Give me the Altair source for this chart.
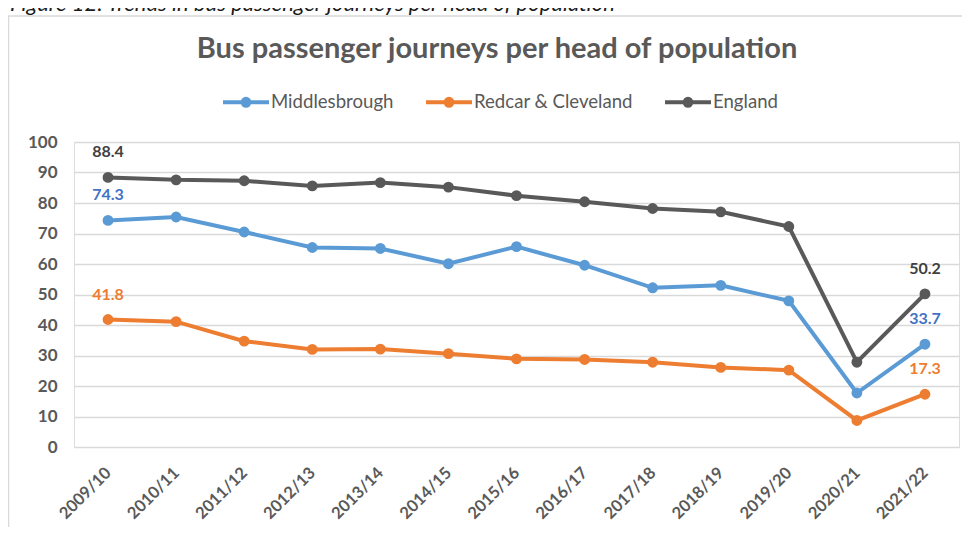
import altair as alt
import pandas as pd

caption = "Figure 12: Trends in bus passenger journeys per head of population"
title = "Bus passenger journeys per head of population"

years = ["2009/10", "2010/11", "2011/12", "2012/13", "2013/14", "2014/15", "2015/16",
         "2016/17", "2017/18", "2018/19", "2019/20", "2020/21", "2021/22"]
series = ["Middlesbrough", "Redcar & Cleveland", "England"]
middlesbrough = [74.3, 75.4, 70.5, 65.4, 65.1, 60.1, 65.7, 59.6, 52.2, 53.0, 47.9, 17.7, 33.7]
redcar = [41.8, 41.1, 34.7, 32.0, 32.1, 30.6, 28.9, 28.7, 27.8, 26.1, 25.2, 8.7, 17.3]
england = [88.4, 87.6, 87.3, 85.6, 86.7, 85.2, 82.4, 80.4, 78.2, 77.1, 72.3, 27.8, 50.2]
y_ticks = [0, 10, 20, 30, 40, 50, 60, 70, 80, 90, 100]

line_colors = ["#5B9BD5", "#ED7D31", "#595959"]

rows = []
for name, vals in zip(series, [middlesbrough, redcar, england]):
    for yr, v in zip(years, vals):
        rows.append({"year": yr, "series": name, "value": v})
df = pd.DataFrame(rows)

FONT = "Lato"
GREY = "#595959"

color_scale = alt.Scale(domain=series, range=line_colors)

base = alt.Chart(df).encode(
    x=alt.X("year:N", sort=years, scale=alt.Scale(type="point", padding=0.5),
            axis=alt.Axis(title=None, labelAngle=-45, labelAlign="right", labelBaseline="middle",
                          labelPadding=23, ticks=False, domain=False, grid=False,
                          labelFont=FONT, labelFontSize=16.5, labelFontWeight="bold",
                          labelColor=GREY)),
    y=alt.Y("value:Q", scale=alt.Scale(domain=[0, 100], nice=False),
            axis=alt.Axis(title=None, values=y_ticks, ticks=False, domain=False,
                          labelPadding=17, labelFont=FONT, labelFontSize=17,
                          labelFontWeight="bold", labelColor=GREY,
                          gridColor="#d9d9d9", gridWidth=1.5)),
)

legend = alt.Legend(
    orient="none", legendX=147, legendY=-65, direction="horizontal", title=None,
    symbolType="M-1,0H1M-0.15,0A0.15,0.15 0 1,1 0.15,0A0.15,0.15 0 1,1 -0.15,0Z",
    symbolSize=2116, symbolStrokeWidth=4, labelOffset=0, columnPadding=24, padding=0,
    labelFont=FONT, labelFontSize=18.6, labelColor=GREY, symbolOpacity=1,
)

lines = base.mark_line(strokeWidth=4).encode(
    stroke=alt.Stroke("series:N", scale=color_scale, sort=series, legend=legend)
)
points = base.mark_point(filled=False, size=70, strokeWidth=2.5, opacity=1).encode(
    fill=alt.Fill("series:N", scale=color_scale, sort=series, legend=legend),
    stroke=alt.Stroke("series:N", scale=color_scale, sort=series, legend=legend),
)
labels = base.mark_text(dy=-25, font=FONT, fontSize=16, fontWeight="bold").encode(
    text=alt.Text("value:Q", format=".1f"),
    color=alt.when(alt.datum.series == "Middlesbrough").then(alt.value("#4472C4"))
    .when(alt.datum.series == "Redcar & Cleveland").then(alt.value("#ED7D31"))
    .otherwise(alt.value("#404040")),
).transform_filter(
    (alt.datum.year == years[0]) | (alt.datum.year == years[-1])
)

one = pd.DataFrame({"k": [0]})
border_left = alt.Chart(one).mark_rule(color="#d9d9d9", strokeWidth=1.5).encode(
    x=alt.value(-65.5), y=alt.value(-126), y2=alt.value(390)
)
border_top = alt.Chart(one).mark_rule(color="#d9d9d9", strokeWidth=1.5).encode(
    x=alt.value(-66), x2=alt.value(900), y=alt.value(-126)
)
cap = alt.Chart(one).mark_text(align="left", baseline="alphabetic", font=FONT,
                               fontSize=22, fontStyle="italic", color="#1a1a1a").encode(
    x=alt.value(-64), y=alt.value(-131), text=alt.value(caption)
)
ttl = alt.Chart(one).mark_text(align="center", baseline="alphabetic", font=FONT,
                               fontSize=29, fontWeight="bold", color=GREY).encode(
    x=alt.value(423), y=alt.value(-84), text=alt.value(title)
)

chart = alt.layer(border_left, border_top, cap, ttl, lines, points, labels).properties(
    width=885, height=305,
    autosize=alt.AutoSizeParams(type="none"),
    padding={"left": 66, "top": 134, "right": 3, "bottom": 80},
).configure_view(stroke="#c9c9c9", strokeWidth=1.5).configure(background="white")

chart.save("out.html", embed_options={"renderer": "svg", "actions": False})
